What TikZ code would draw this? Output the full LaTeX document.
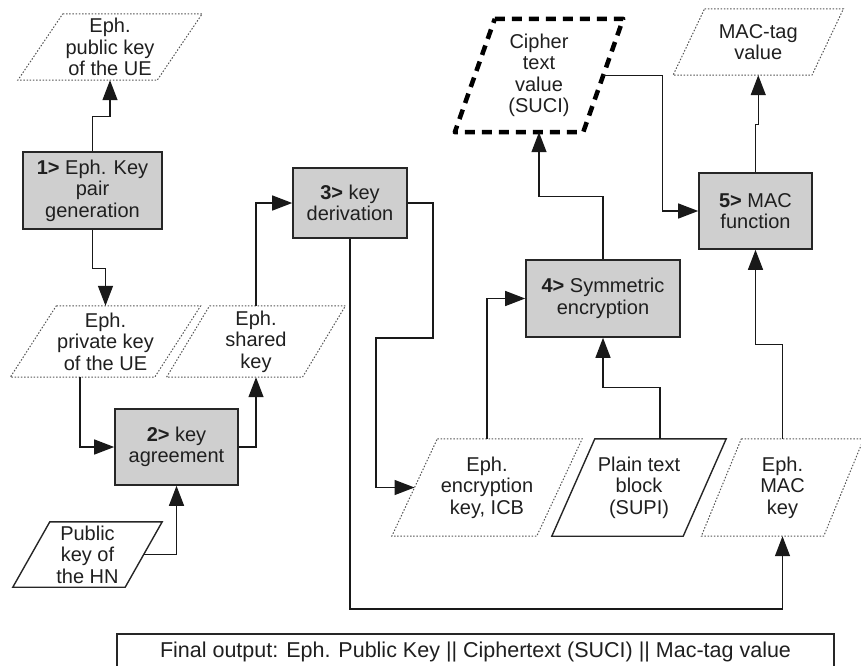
\documentclass[tikz,border=0pt]{standalone}
\usepackage{fontspec}
\setmainfont{Liberation Sans}
\usetikzlibrary{arrows.meta}
\definecolor{boxgray}{RGB}{207,207,207}
\definecolor{dotgray}{RGB}{85,85,85}
\newcommand{\paradraw}[3]{\draw[#1] ([xshift=#3pt]#2.north west) -- ([xshift=#3pt]#2.north east) -- ([xshift=-#3pt]#2.south east) -- ([xshift=-#3pt]#2.south west) -- cycle;}
\begin{document}
\begin{tikzpicture}[x=1pt,y=-1pt,
  lbl/.style={font=\fontsize{20}{21.5}\selectfont, align=center, text=black!88},
  proc/.style={lbl, draw=black!85, line width=1.6pt, fill=boxgray, inner sep=0pt},
  ptext/.style={lbl, inner sep=0pt},
  dotpara/.style={draw=dotgray, line width=1pt, dash pattern=on 1.5pt off 1.7pt},
  solidpara/.style={draw=black!85, line width=1.4pt},
  thickdash/.style={draw=black, line width=4.5pt, dash pattern=on 10pt off 7pt, line join=round},
  conn/.style={draw=black!90, line width=1.3pt},
  arr/.style={conn, -{Triangle[length=20pt,width=15pt]}},
]
\useasboundingbox (0,0) rectangle (861,665);

% process boxes
\node[proc, minimum width=139pt, minimum height=77pt] (b1) at (92.5,190.5) {\textbf{1>} Eph. Key\\pair\\generation};
\node[proc, minimum width=123pt, minimum height=76pt] (b2) at (176.5,447) {\textbf{2>} key\\agreement};
\node[proc, minimum width=114pt, minimum height=70pt] (b3) at (350,203) {\textbf{3>} key\\derivation};
\node[proc, minimum width=154pt, minimum height=77pt] (b4) at (603,298.5) {\textbf{4>} Symmetric\\encryption};
\node[proc, minimum width=113pt, minimum height=76pt] (b5) at (755.5,211) {\textbf{5>} MAC\\function};

% data parallelograms
\node[ptext, minimum width=139pt, minimum height=66pt] (pub) at (110,47) {Eph.\\public key\\of the UE};
\paradraw{dotpara}{pub}{22.5}
\node[ptext, minimum width=144pt, minimum height=71pt] (priv) at (105.5,341.5) {Eph.\\private key\\of the UE};
\paradraw{dotpara}{priv}{23}
\node[ptext, minimum width=135.5pt, minimum height=71pt] (sh) at (256,341.5) {Eph.\\shared\\key};
\paradraw{dotpara}{sh}{21.5}
\node[ptext, minimum width=112pt, minimum height=65pt] (hn) at (87.5,554.5) {Public\\key of\\the HN};
\paradraw{solidpara}{hn}{18.5}
\node[ptext, minimum width=144.5pt, minimum height=97pt] (enc) at (487,487.5) {Eph.\\encryption\\key, ICB};
\paradraw{dotpara}{enc}{22.75}
\node[ptext, minimum width=131pt, minimum height=97pt] (pl) at (639,487.5) {Plain text\\block\\(SUPI)};
\paradraw{solidpara}{pl}{21.5}
\node[ptext, minimum width=122pt, minimum height=97pt] (mack) at (782.5,487.5) {Eph.\\MAC\\key};
\paradraw{dotpara}{mack}{20}
\node[ptext, minimum width=128pt, minimum height=113pt] (ci) at (539,75.5) {Cipher\\text\\value\\(SUCI)};
\paradraw{thickdash}{ci}{20}
\node[ptext, minimum width=138.5pt, minimum height=66pt] (mt) at (758.25,42) {MAC-tag\\value};
\paradraw{dotpara}{mt}{15.75}

% final output
\node[lbl, font=\fontsize{21.5}{23}\selectfont, draw=black!85, line width=1.3pt, minimum width=717pt, minimum height=36pt, inner sep=0pt] (fin) at (475.5,652) {Final output: Eph. Public Key || Ciphertext (SUCI) || Mac-tag value};

% helper coordinates
\coordinate (k1) at (433,338);
\coordinate (k2) at (376,338);
\coordinate (bot) at (0,609);

% connectors
\draw[arr] (b1.north) -- ++(0,-35) -| (pub.south);
\draw[arr] (b1.south) -- ++(0,39) -| (priv.north);
\draw[arr] ([xshift=-25.5pt]priv.south) |- (b2.west);
\draw[arr] (b2.east) -| (sh.south);
\draw[arr] (hn.east) -| (b2.south);
\draw[arr] (sh.north) |- (b3.west);
\draw[arr] (b3.east) -| (k1) -- (k2) |- (enc.west);
\draw[arr] (b3.south) -- (b3.south |- bot) -| (mack.south);
\draw[arr] (enc.north) |- (b4.west);
\draw[arr] ([xshift=21pt]pl.north) -- ++(0,-51) -| (b4.south);
\draw[arr] (b4.north) -- ++(0,-63) -| (ci.south);
\draw[arr] (ci.east) -- ++(59,0) |- (b5.west);
\draw[arr] (b5.north) -- ++(0,-48) -| (mt.south);
\draw[arr] (mack.north) -- ++(0,-94) -| (b5.south);
\end{tikzpicture}
\end{document}
